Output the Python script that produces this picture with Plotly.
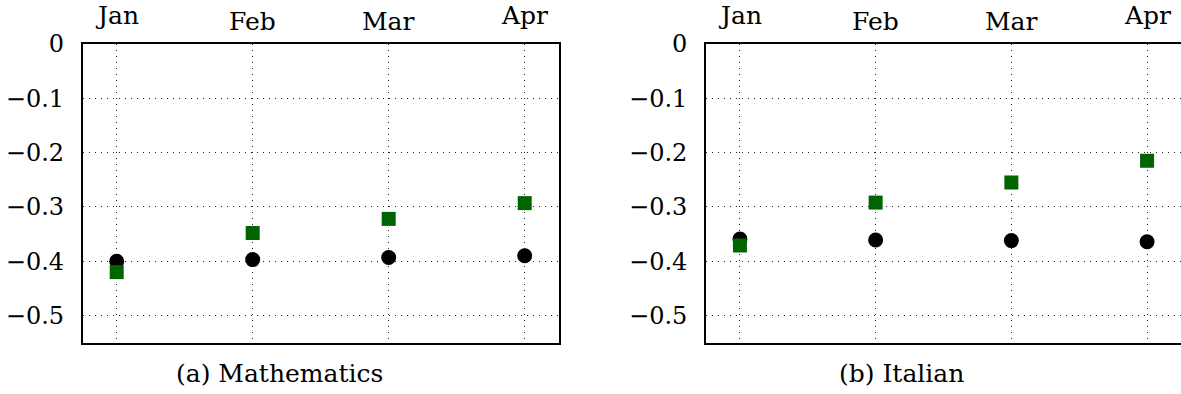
import plotly.graph_objects as go

months = ["Jan", "Feb", "Mar", "Apr"]
y_ticks = [0, -0.1, -0.2, -0.3, -0.4, -0.5]
y_tick_text = ["0", "\u22120.1", "\u22120.2", "\u22120.3", "\u22120.4", "\u22120.5"]

math_black = [-0.400, -0.397, -0.393, -0.390]
math_green = [-0.420, -0.348, -0.322, -0.293]
ital_black = [-0.359, -0.361, -0.362, -0.364]
ital_green = [-0.371, -0.292, -0.255, -0.215]

captions = ["(a) Mathematics", "(b) Italian"]

W, H = 1181, 394
FONT = "DejaVu Serif"
FS_TICK = 24
FS_TEXT = 25
GREEN = "#006400"

fig = go.Figure()

panels = [(math_black, math_green, "x", "y"), (ital_black, ital_green, "x2", "y2")]
for black, green, xa, ya in panels:
    fig.add_trace(go.Scatter(x=months, y=black, mode="markers", xaxis=xa, yaxis=ya,
                             marker=dict(symbol="circle", size=15, color="black"),
                             showlegend=False, cliponaxis=False))
    fig.add_trace(go.Scatter(x=months, y=green, mode="markers", xaxis=xa, yaxis=ya,
                             marker=dict(symbol="square", size=14, color=GREEN),
                             showlegend=False, cliponaxis=False))

x_dom = [[82.7 / W, 558.7 / W], [706 / W, 1.0]]
y_dom = [1 - 342.7 / H, 1 - 44 / H]

common_x = dict(type="category", categoryorder="array", categoryarray=months,
                range=[-0.25, 3.25], showticklabels=False, ticks="",
                showgrid=True, gridcolor="#222", gridwidth=1, griddash="1px,5px",
                showline=True, linecolor="black", linewidth=1.6, mirror=True,
                zeroline=False, automargin=False)
common_y = dict(range=[-0.55, 0], tickvals=y_ticks, ticktext=y_tick_text,
                showgrid=True, gridcolor="#222", gridwidth=1, griddash="1px,5px",
                showline=True, linecolor="black", linewidth=1.6,
                zeroline=False, ticks="", ticklabelstandoff=12, automargin=False,
                tickfont=dict(family=FONT, size=FS_TICK, color="black"))

fig.update_layout(
    width=W, height=H,
    margin=dict(l=0, r=0, t=0, b=0, autoexpand=False),
    paper_bgcolor="white", plot_bgcolor="white",
    xaxis=dict(domain=x_dom[0], anchor="y", **common_x),
    yaxis=dict(domain=y_dom, anchor="x", mirror=True, **common_y),
    xaxis2=dict(domain=x_dom[1], anchor="y2", **common_x),
    yaxis2=dict(domain=y_dom, anchor="x2", mirror=False, **common_y),
)

annotations = []
descenders = set("gjpqyJ")
for xa, ya in [("x", "y"), ("x2", "y2")]:
    for m in months:
        raised = any(c in descenders for c in m)
        annotations.append(dict(x=m, xref=xa, y=1, yref=f"{ya} domain",
                                text=m, showarrow=False, yanchor="bottom",
                                xanchor="center",
                                yshift=12 if raised else 6,
                                font=dict(family=FONT, size=FS_TEXT, color="black")))
centers = [279 / W, 902 / W]
for cap, cx in zip(captions, centers):
    annotations.append(dict(x=cx, xref="paper", y=1 - 373 / H, yref="paper",
                            text=cap, showarrow=False, yanchor="middle",
                            xanchor="center",
                            font=dict(family=FONT, size=FS_TEXT, color="black")))
fig.update_layout(annotations=annotations)

fig.write_html("out.html", config={"displayModeBar": False},
               post_script="document.body.style.margin='0';document.body.style.overflow='hidden';")
